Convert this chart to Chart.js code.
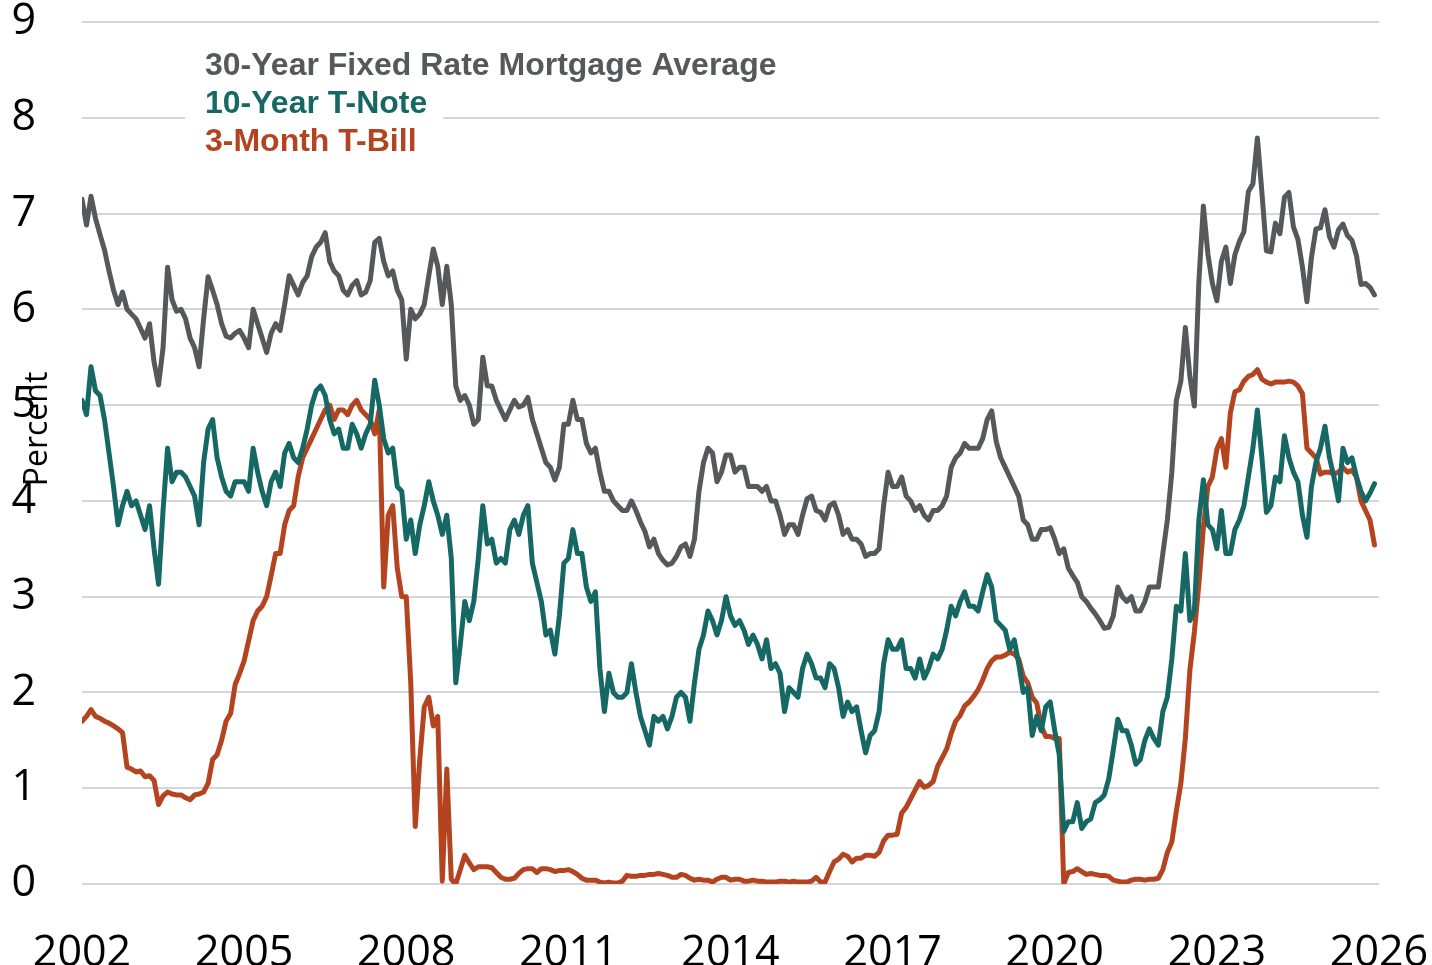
<!DOCTYPE html>
<html>
<head>
<meta charset="utf-8">
<script src="https://cdn.jsdelivr.net/npm/chart.js@4.4.1/dist/chart.umd.min.js"></script>
<style>
  html, body { margin: 0; padding: 0; background: #fff; }
  canvas { display: block; }
</style>
</head>
<body>
<canvas id="chartTasas" width="1432" height="965" style="width:1432px;height:965px"></canvas>
<script>
// monthly readings, Jan 2002 .. Dec 2025
const startYear = 2002;
const xTicks = [2002, 2005, 2008, 2011, 2014, 2017, 2020, 2023, 2026];
const seriesNames = ['30-Year Fixed Rate Mortgage Average', '10-Year T-Note', '3-Month T-Bill'];

const mortgage30 = [
  7.15, 6.88, 7.18, 6.95, 6.78, 6.62, 6.40, 6.20, 6.05, 6.18, 6.00, 5.95, // 2002
  5.90, 5.80, 5.70, 5.85, 5.45, 5.21, 5.60, 6.44, 6.10, 5.98, 6.00, 5.90, // 2003
  5.70, 5.60, 5.40, 5.90, 6.34, 6.20, 6.05, 5.85, 5.72, 5.70, 5.75, 5.78, // 2004
  5.70, 5.60, 6.00, 5.85, 5.70, 5.55, 5.75, 5.85, 5.78, 6.05, 6.35, 6.25, // 2005
  6.15, 6.28, 6.35, 6.55, 6.65, 6.70, 6.80, 6.50, 6.40, 6.35, 6.20, 6.15, // 2006
  6.25, 6.30, 6.15, 6.18, 6.30, 6.70, 6.74, 6.50, 6.35, 6.40, 6.20, 6.10, // 2007
  5.48, 6.00, 5.90, 5.95, 6.05, 6.35, 6.63, 6.45, 6.05, 6.45, 6.05, 5.20, // 2008
  5.05, 5.10, 5.00, 4.80, 4.85, 5.50, 5.20, 5.20, 5.05, 4.95, 4.85, 4.95, // 2009
  5.05, 4.98, 5.00, 5.08, 4.85, 4.70, 4.55, 4.40, 4.35, 4.22, 4.35, 4.80, // 2010
  4.80, 5.05, 4.85, 4.85, 4.60, 4.50, 4.55, 4.30, 4.10, 4.10, 4.00, 3.95, // 2011
  3.90, 3.90, 4.00, 3.90, 3.78, 3.68, 3.52, 3.60, 3.45, 3.38, 3.33, 3.35, // 2012
  3.42, 3.52, 3.55, 3.42, 3.60, 4.10, 4.40, 4.55, 4.50, 4.20, 4.30, 4.48, // 2013
  4.48, 4.30, 4.35, 4.35, 4.15, 4.15, 4.15, 4.10, 4.15, 4.00, 4.00, 3.85, // 2014
  3.65, 3.75, 3.75, 3.65, 3.85, 4.02, 4.05, 3.90, 3.88, 3.80, 3.95, 3.98, // 2015
  3.85, 3.65, 3.70, 3.60, 3.60, 3.55, 3.42, 3.45, 3.45, 3.50, 3.95, 4.30, // 2016
  4.15, 4.15, 4.25, 4.05, 4.00, 3.90, 3.95, 3.85, 3.80, 3.90, 3.90, 3.95, // 2017
  4.05, 4.35, 4.45, 4.50, 4.60, 4.55, 4.55, 4.55, 4.65, 4.85, 4.94, 4.62, // 2018
  4.45, 4.35, 4.25, 4.15, 4.05, 3.80, 3.75, 3.60, 3.60, 3.70, 3.70, 3.72, // 2019
  3.60, 3.45, 3.50, 3.30, 3.22, 3.15, 3.00, 2.95, 2.88, 2.82, 2.75, 2.67, // 2020
  2.68, 2.80, 3.10, 3.00, 2.95, 3.00, 2.85, 2.85, 2.95, 3.10, 3.10, 3.10, // 2021
  3.45, 3.80, 4.30, 5.05, 5.25, 5.81, 5.30, 4.99, 6.29, 7.08, 6.58, 6.27, // 2022
  6.09, 6.50, 6.65, 6.27, 6.57, 6.71, 6.81, 7.23, 7.31, 7.79, 7.22, 6.61, // 2023
  6.60, 6.90, 6.79, 7.17, 7.22, 6.86, 6.73, 6.44, 6.08, 6.54, 6.84, 6.85, // 2024
  7.04, 6.76, 6.65, 6.83, 6.89, 6.77, 6.72, 6.56, 6.26, 6.27, 6.23, 6.15  // 2025
];

const tNote10 = [
  5.05, 4.90, 5.40, 5.15, 5.10, 4.85, 4.50, 4.15, 3.75, 3.95, 4.10, 3.95, // 2002
  4.00, 3.85, 3.70, 3.95, 3.50, 3.13, 3.90, 4.55, 4.20, 4.30, 4.30, 4.25, // 2003
  4.15, 4.05, 3.75, 4.40, 4.75, 4.85, 4.45, 4.25, 4.10, 4.05, 4.20, 4.20, // 2004
  4.20, 4.10, 4.55, 4.30, 4.10, 3.95, 4.20, 4.30, 4.15, 4.50, 4.60, 4.45, // 2005
  4.40, 4.55, 4.75, 5.00, 5.15, 5.20, 5.10, 4.85, 4.70, 4.75, 4.55, 4.55, // 2006
  4.80, 4.70, 4.55, 4.70, 4.80, 5.26, 5.00, 4.65, 4.50, 4.55, 4.15, 4.10, // 2007
  3.60, 3.80, 3.45, 3.75, 3.95, 4.20, 4.00, 3.85, 3.65, 3.85, 3.40, 2.10, // 2008
  2.50, 2.95, 2.75, 2.95, 3.40, 3.95, 3.55, 3.60, 3.35, 3.40, 3.35, 3.70, // 2009
  3.80, 3.65, 3.85, 3.95, 3.35, 3.15, 2.95, 2.60, 2.65, 2.40, 2.80, 3.35, // 2010
  3.40, 3.70, 3.45, 3.45, 3.10, 2.95, 3.05, 2.25, 1.80, 2.20, 2.00, 1.95, // 2011
  1.95, 2.00, 2.30, 2.00, 1.75, 1.60, 1.45, 1.75, 1.70, 1.75, 1.62, 1.75, // 2012
  1.95, 2.00, 1.95, 1.70, 2.10, 2.45, 2.60, 2.85, 2.75, 2.60, 2.75, 3.00, // 2013
  2.80, 2.70, 2.75, 2.65, 2.50, 2.60, 2.50, 2.35, 2.55, 2.25, 2.30, 2.20, // 2014
  1.80, 2.05, 2.00, 1.95, 2.25, 2.40, 2.30, 2.15, 2.15, 2.05, 2.30, 2.25, // 2015
  2.05, 1.75, 1.90, 1.80, 1.85, 1.60, 1.37, 1.55, 1.60, 1.80, 2.30, 2.55, // 2016
  2.45, 2.45, 2.55, 2.25, 2.25, 2.15, 2.35, 2.15, 2.25, 2.40, 2.35, 2.45, // 2017
  2.65, 2.90, 2.80, 2.95, 3.05, 2.90, 2.90, 2.85, 3.05, 3.23, 3.10, 2.75, // 2018
  2.70, 2.65, 2.45, 2.55, 2.30, 2.00, 2.05, 1.55, 1.75, 1.60, 1.85, 1.90, // 2019
  1.60, 1.35, 0.55, 0.65, 0.65, 0.85, 0.58, 0.65, 0.68, 0.85, 0.88, 0.93, // 2020
  1.10, 1.40, 1.72, 1.60, 1.60, 1.45, 1.25, 1.30, 1.50, 1.62, 1.52, 1.45, // 2021
  1.80, 1.95, 2.35, 2.90, 2.85, 3.45, 2.75, 2.85, 3.80, 4.22, 3.75, 3.70, // 2022
  3.50, 3.90, 3.45, 3.45, 3.70, 3.80, 3.95, 4.25, 4.55, 4.95, 4.45, 3.88, // 2023
  3.95, 4.25, 4.20, 4.68, 4.45, 4.30, 4.20, 3.85, 3.62, 4.15, 4.40, 4.55, // 2024
  4.78, 4.45, 4.25, 4.00, 4.55, 4.40, 4.45, 4.25, 4.10, 4.00, 4.08, 4.18  // 2025
];

const tBill3m = [
  1.70, 1.75, 1.82, 1.75, 1.73, 1.70, 1.68, 1.65, 1.62, 1.58, 1.22, 1.20, // 2002
  1.17, 1.18, 1.12, 1.13, 1.08, 0.83, 0.92, 0.96, 0.94, 0.93, 0.93, 0.90, // 2003
  0.88, 0.93, 0.94, 0.96, 1.05, 1.30, 1.35, 1.50, 1.70, 1.78, 2.08, 2.20, // 2004
  2.33, 2.54, 2.75, 2.85, 2.90, 3.00, 3.22, 3.45, 3.45, 3.75, 3.90, 3.95, // 2005
  4.25, 4.45, 4.55, 4.65, 4.75, 4.85, 4.95, 5.00, 4.85, 4.95, 4.95, 4.90, // 2006
  5.00, 5.05, 4.95, 4.90, 4.85, 4.70, 4.95, 3.10, 3.85, 3.95, 3.30, 3.00, // 2007
  3.00, 2.10, 0.60, 1.30, 1.85, 1.95, 1.65, 1.75, 0.03, 1.20, 0.05, 0.00, // 2008
  0.15, 0.30, 0.22, 0.15, 0.18, 0.18, 0.18, 0.17, 0.12, 0.07, 0.05, 0.05, // 2009
  0.06, 0.11, 0.15, 0.16, 0.16, 0.12, 0.16, 0.16, 0.15, 0.13, 0.14, 0.14, // 2010
  0.15, 0.13, 0.10, 0.06, 0.04, 0.04, 0.04, 0.02, 0.01, 0.02, 0.01, 0.01, // 2011
  0.03, 0.09, 0.08, 0.08, 0.09, 0.09, 0.10, 0.10, 0.11, 0.10, 0.09, 0.07, // 2012
  0.07, 0.10, 0.09, 0.06, 0.04, 0.05, 0.04, 0.04, 0.02, 0.05, 0.07, 0.07, // 2013
  0.04, 0.05, 0.05, 0.03, 0.03, 0.04, 0.03, 0.03, 0.02, 0.02, 0.02, 0.03, // 2014
  0.03, 0.02, 0.03, 0.02, 0.02, 0.02, 0.03, 0.07, 0.02, 0.02, 0.13, 0.23, // 2015
  0.26, 0.31, 0.29, 0.23, 0.27, 0.27, 0.30, 0.30, 0.29, 0.33, 0.45, 0.51, // 2016
  0.51, 0.52, 0.74, 0.80, 0.89, 0.98, 1.07, 1.01, 1.03, 1.07, 1.23, 1.32, // 2017
  1.41, 1.57, 1.70, 1.76, 1.86, 1.90, 1.96, 2.03, 2.13, 2.25, 2.33, 2.37, // 2018
  2.37, 2.39, 2.42, 2.40, 2.35, 2.17, 2.10, 1.95, 1.89, 1.65, 1.54, 1.54, // 2019
  1.52, 1.52, 0.00, 0.12, 0.13, 0.16, 0.13, 0.10, 0.11, 0.10, 0.09, 0.09, // 2020
  0.08, 0.04, 0.03, 0.02, 0.02, 0.04, 0.05, 0.05, 0.04, 0.05, 0.05, 0.06, // 2021
  0.15, 0.33, 0.44, 0.76, 1.05, 1.52, 2.23, 2.63, 3.13, 3.72, 4.15, 4.25, // 2022
  4.54, 4.65, 4.35, 4.92, 5.14, 5.16, 5.25, 5.30, 5.32, 5.37, 5.27, 5.24, // 2023
  5.22, 5.24, 5.24, 5.24, 5.25, 5.24, 5.20, 5.12, 4.55, 4.50, 4.45, 4.28, // 2024
  4.30, 4.30, 4.28, 4.30, 4.35, 4.30, 4.32, 4.25, 4.00, 3.90, 3.80, 3.54  // 2025
];

const colores = ['#55595c', '#166865', '#b4441f'];

function _puntos(valores) {
  return valores.map((v, i) => ({ x: startYear + i / 12, y: v }));
}

const leyendaTexto = {
  id: 'leyendaTexto',
  afterDraw(chart) {
    const ctx = chart.ctx;
    ctx.save();
    ctx.font = 'bold 32px "Liberation Sans", Arial, sans-serif';
    ctx.textBaseline = 'middle';
    chart.data.datasets.forEach((ds, i) => {
      const y = 66 + i * 38;
      const w = ctx.measureText(ds.label).width;
      ctx.fillStyle = '#fff';
      ctx.fillRect(185, y - 19, w + 36, 38);
      ctx.fillStyle = ds.borderColor;
      ctx.fillText(ds.label, 205, y);
    });
    ctx.restore();

    // axis title sits on top of the tick labels, as in the source
    ctx.save();
    ctx.translate(38, 429);
    ctx.rotate(-Math.PI / 2);
    ctx.font = '32px "Open Sans", sans-serif';
    ctx.fillStyle = '#000';
    ctx.textAlign = 'center';
    ctx.textBaseline = 'middle';
    ctx.fillText('Percent', 0, 0);
    ctx.restore();
  }
};

const ctx = document.getElementById('chartTasas');
new Chart(ctx.getContext('2d'), {
  type: 'line',
  data: {
    datasets: [
      { label: seriesNames[0], data: _puntos(mortgage30), borderColor: colores[0] },
      { label: seriesNames[1], data: _puntos(tNote10), borderColor: colores[1] },
      { label: seriesNames[2], data: _puntos(tBill3m), borderColor: colores[2] }
    ].map(ds => ({ ...ds, borderWidth: 5, pointRadius: 0, tension: 0, fill: false, borderJoinStyle: 'round', borderCapStyle: 'round' }))
  },
  options: {
    responsive: false,
    animation: false,
    devicePixelRatio: 1,
    layout: { padding: { top: 22, right: 53, bottom: 0, left: 0 } },
    plugins: { legend: { display: false }, tooltip: { enabled: false } },
    scales: {
      x: {
        type: 'linear',
        min: 2002,
        max: 2026,
        afterBuildTicks: (s) => { s.ticks = xTicks.map(v => ({ value: v })); },
        afterFit: (s) => { s.height = 81; s.paddingLeft = 0; s.paddingRight = 0; },
        grid: { display: false },
        border: { display: false },
        ticks: {
          padding: 40,
          maxRotation: 0,
          autoSkip: false,
          color: '#000',
          font: { family: '"Open Sans", sans-serif', size: 43, lineHeight: 1 },
          callback: (v) => String(v)
        }
      },
      y: {
        min: 0,
        max: 9,
        afterFit: (s) => { s.width = 82; s.paddingTop = 0; s.paddingBottom = 0; },
        grid: { color: '#d5d5dc', lineWidth: 2, drawTicks: false },
        border: { display: false },
        ticks: {
          stepSize: 1,
          padding: 46,
          color: '#000',
          font: { family: '"Open Sans", sans-serif', size: 43, lineHeight: 1 }
        }
      }
    }
  },
  plugins: [leyendaTexto]
});
</script>
</body>
</html>
